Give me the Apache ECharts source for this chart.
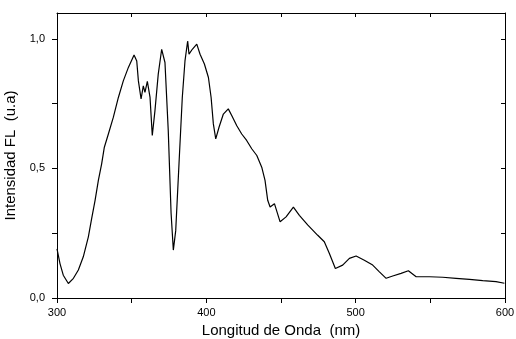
<!DOCTYPE html>
<html>
<head>
<meta charset="utf-8">
<script src="https://cdn.jsdelivr.net/npm/echarts@6/dist/echarts.min.js"></script>
<style>
  html, body { margin: 0; padding: 0; background: #fff; }
  #chart { width: 516px; height: 339px; }
</style>
</head>
<body>
<div id="chart"></div>
<script>
// longitud de onda (nm)
var wavelength = [
  300, 302, 304.2, 307.6, 311, 314.3, 317.6, 321, 323.2, 325.5, 327.7, 329.9,
  331.7, 334.4, 337.7, 341.1, 344.4, 347.8, 351.6, 353.4, 354.5, 356.3, 357.8,
  358.9, 360.5, 362.3, 363.8, 365.6, 367.8, 370.1, 372.3, 374.5, 376.4, 377.9,
  379.5, 381.7, 383.9, 385.7, 387.5, 388.4, 390.6, 393.6, 395.8, 398.7, 401.4,
  403.2, 404.7, 406.3, 408.5, 411.4, 414.7, 417, 420.4, 423.7, 427, 430.4, 433.8,
  437.1, 439.3, 441.1, 442.7, 445.6, 449.4, 453.4, 458.3, 462.3, 468, 474.6, 479,
  482.4, 486.4, 491.3, 495.8, 500.3, 505.8, 511.4, 515.9, 520.4, 524.8, 530.4,
  535.3, 540.5, 549.4, 558.3, 567.2, 576.2, 585.1, 594, 599.6
];
// intensidad FL (u.a)
var intensity = [
  0.19, 0.133, 0.088, 0.056, 0.076, 0.108, 0.159, 0.236, 0.306, 0.377, 0.454, 0.518,
  0.582, 0.633, 0.697, 0.774, 0.838, 0.890, 0.938, 0.915, 0.838, 0.768, 0.819,
  0.794, 0.836, 0.774, 0.627, 0.723, 0.864, 0.960, 0.909, 0.646, 0.327, 0.185,
  0.26, 0.518, 0.774, 0.915, 0.992, 0.941, 0.960, 0.98, 0.941, 0.903, 0.851,
  0.774, 0.672, 0.614, 0.659, 0.71, 0.73, 0.704, 0.665, 0.633, 0.608, 0.576, 0.55,
  0.505, 0.454, 0.377, 0.351, 0.364, 0.294, 0.313, 0.351, 0.319, 0.281, 0.242, 0.217,
  0.172, 0.114, 0.127, 0.153, 0.162, 0.146, 0.127, 0.101, 0.076, 0.085, 0.095,
  0.105, 0.082, 0.082, 0.080, 0.076, 0.072, 0.067, 0.063, 0.057
];
var xLabels = [300, 400, 500, 600];
var yLabels = [0, 0.5, 1.0];

var points = wavelength.map(function (w, i) { return [w, intensity[i]]; });

var font = 'Liberation Sans, Arial, sans-serif';
var chart = echarts.init(document.getElementById('chart'));
var option = {
  animation: false,
  grid: { left: 57, right: 11, top: 13, bottom: 41, outerBoundsMode: 'none' },
  xAxis: [{
    type: 'value', min: 300, max: 600, interval: 50,
    name: 'Longitud de Onda  (nm)', nameLocation: 'middle', nameGap: 25,
    nameTextStyle: { color: '#000', fontSize: 15, fontFamily: font },
    axisLine: { onZero: false, lineStyle: { color: '#000', width: 1 } },
    axisTick: { inside: false, length: 5, lineStyle: { color: '#000' } },
    axisLabel: {
      color: '#000', fontSize: 11, fontFamily: font, margin: 9,
      formatter: function (v) { return xLabels.indexOf(v) >= 0 ? String(v) : ''; }
    },
    splitLine: { show: false }
  }, {
    type: 'value', position: 'top', min: 300, max: 600, interval: 50,
    axisLine: { onZero: false, lineStyle: { color: '#000', width: 1 } },
    axisTick: { inside: true, length: 4, lineStyle: { color: '#000' } },
    axisLabel: { show: false },
    splitLine: { show: false }
  }],
  yAxis: [{
    type: 'value', min: 0, max: 1.1, interval: 0.25,
    name: 'Intensidad FL  (u.a)', nameLocation: 'middle', nameGap: 32,
    nameTextStyle: { color: '#000', fontSize: 15, fontFamily: font },
    axisLine: { show: true, onZero: false, lineStyle: { color: '#000', width: 1 } },
    axisTick: { show: true, inside: false, length: 5, lineStyle: { color: '#000' } },
    axisLabel: {
      color: '#000', fontSize: 11, fontFamily: font, margin: 12,
      showMaxLabel: false,
      formatter: function (v) {
        var hit = yLabels.some(function (t) { return Math.abs(t - v) < 1e-6; });
        return hit ? v.toFixed(1).replace('.', ',') : '';
      }
    },
    splitLine: { show: false }
  }, {
    type: 'value', position: 'right', min: 0, max: 1.1, interval: 0.25,
    axisLine: { show: true, onZero: false, lineStyle: { color: '#000', width: 1 } },
    axisTick: { show: true, inside: true, length: 4, lineStyle: { color: '#000' } },
    axisLabel: { show: false },
    splitLine: { show: false }
  }],
  series: [{
    type: 'line',
    data: points,
    showSymbol: false,
    lineStyle: { color: '#000', width: 1.2 },
    xAxisIndex: 0, yAxisIndex: 0
  }]
};
chart.setOption(option);
</script>
</body>
</html>
